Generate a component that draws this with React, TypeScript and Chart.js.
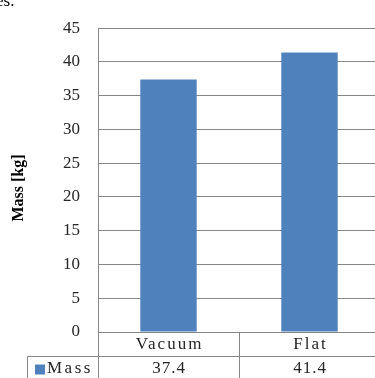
import React, { useEffect, useRef } from "react";
import { Chart, registerables } from "chart.js";

Chart.register(...registerables);

// Chart data
const categories = ["Vacuum", "Flat"];
const seriesName = "Mass";
const massValues = [37.4, 41.4];
const valueLabels = ["37.4", "41.4"];
const yMin = 0;
const yMax = 45;
const yStep = 5;
const axisTitle = "Mass [kg]";
const captionTail = "es.";

const BLUE = "#4f81bd";
const GRID = "#868686";
const TEXT = "#262626";
const SERIF = "'Liberation Serif', 'Times New Roman', serif";

// Draws the data table beneath the plot, the rotated axis title and the caption tail
const tablePlugin = {
  id: "dataTable",
  afterDraw(chart: any) {
    const { ctx, chartArea, scales } = chart;
    const x = scales.x;
    const bottom = Math.round(chartArea.bottom) + 0.5;
    const canvasH = chart.height;
    const left = Math.round(chartArea.left) + 0.5;
    const right = Math.round(chartArea.right) - 0.5;
    const centers = categories.map((_, i) => x.getPixelForValue(i));
    const bounds = [left];
    for (let i = 0; i < centers.length - 1; i++) {
      bounds.push(Math.round((centers[i] + centers[i + 1]) / 2) + 0.5);
    }
    bounds.push(right);
    const rowSplit = bottom + 24;
    const legendLeft = 27.5;

    ctx.save();
    ctx.strokeStyle = GRID;
    ctx.lineWidth = 1;
    ctx.beginPath();
    bounds.forEach((bx) => {
      ctx.moveTo(bx, bottom);
      ctx.lineTo(bx, canvasH);
    });
    ctx.moveTo(legendLeft, rowSplit);
    ctx.lineTo(right, rowSplit);
    ctx.moveTo(legendLeft, rowSplit);
    ctx.lineTo(legendLeft, canvasH);
    ctx.stroke();

    ctx.fillStyle = TEXT;
    ctx.font = `17px ${SERIF}`;
    ctx.textAlign = "center";
    ctx.textBaseline = "middle";
    (ctx as any).letterSpacing = "2px";
    categories.forEach((c, i) => ctx.fillText(c, centers[i] + 1, bottom + 12));
    (ctx as any).letterSpacing = "1px";
    valueLabels.forEach((v, i) => ctx.fillText(v, centers[i] + 0.5, rowSplit + 12));

    // legend key in the table
    ctx.fillStyle = BLUE;
    ctx.fillRect(35, rowSplit + 8, 10, 10);
    ctx.fillStyle = TEXT;
    ctx.textAlign = "left";
    (ctx as any).letterSpacing = "2.5px";
    ctx.fillText(seriesName, 47, rowSplit + 12);
    (ctx as any).letterSpacing = "0px";

    // y axis title
    ctx.save();
    ctx.translate(18.5, 188);
    ctx.rotate(-Math.PI / 2);
    ctx.font = `bold 16px ${SERIF}`;
    ctx.textAlign = "center";
    ctx.textBaseline = "middle";
    ctx.fillStyle = "#000000";
    ctx.fillText(axisTitle, 0, 0);
    ctx.restore();

    // tail of the preceding text line
    ctx.font = `17px ${SERIF}`;
    ctx.textAlign = "left";
    ctx.textBaseline = "alphabetic";
    ctx.fillStyle = "#000000";
    ctx.fillText(captionTail, -4, 6);
    ctx.restore();
  },
};

export default function App() {
  const ref = useRef<HTMLCanvasElement>(null);

  useEffect(() => {
    document.body.style.margin = "0";
    const chart = new Chart(ref.current as HTMLCanvasElement, {
      type: "bar",
      data: {
        labels: categories,
        datasets: [
          {
            label: seriesName,
            data: massValues,
            backgroundColor: BLUE,
            borderWidth: 0,
            barPercentage: 0.4,
            categoryPercentage: 1.0,
          },
        ],
      },
      options: {
        animation: false,
        responsive: false,
        devicePixelRatio: 1,
        layout: { padding: { top: 19, left: 0, right: 0, bottom: 0 } },
        plugins: {
          legend: { display: false },
          tooltip: { enabled: false },
        },
        scales: {
          x: {
            ticks: { display: false },
            grid: { display: false },
            border: { display: false },
            afterFit: (s: any) => {
              s.height = 46;
            },
          },
          y: {
            min: yMin,
            max: yMax,
            ticks: {
              stepSize: yStep,
              padding: 18,
              color: TEXT,
              font: { family: SERIF, size: 17 },
            },
            grid: { color: GRID, drawTicks: false },
            border: { color: GRID },
            afterFit: (s: any) => {
              s.width = 98;
            },
          },
        },
      },
      plugins: [tablePlugin],
    });
    return () => chart.destroy();
  }, []);

  return (
    <div
      style={{
        position: "absolute",
        left: 0,
        top: 0,
        width: 375,
        height: 378,
        overflow: "hidden",
        background: "#ffffff",
      }}
    >
      <canvas ref={ref} width={380} height={378} style={{ display: "block" }} />
    </div>
  );
}
